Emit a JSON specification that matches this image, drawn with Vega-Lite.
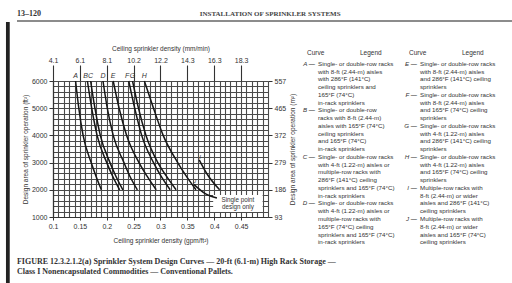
{
  "$schema": "https://vega.github.io/schema/vega-lite/v6.json",
  "width": 215,
  "height": 136,
  "autosize": {"type": "none"},
  "padding": {"left": 53, "top": 81, "right": 244, "bottom": 66},
  "background": "white",
  "config": {"view": {"stroke": null}, "font": "Liberation Sans"},
  "datasets": {
    "curves": [
      {"curve": "A", "d": 0.142, "area": 6000}, {"curve": "A", "d": 0.148, "area": 5000}, {"curve": "A", "d": 0.156, "area": 4000}, {"curve": "A", "d": 0.171, "area": 3000}, {"curve": "A", "d": 0.180, "area": 2500}, {"curve": "A", "d": 0.190, "area": 2000},
      {"curve": "B", "d": 0.164, "area": 6000}, {"curve": "B", "d": 0.172, "area": 5000}, {"curve": "B", "d": 0.182, "area": 4000}, {"curve": "B", "d": 0.200, "area": 3000}, {"curve": "B", "d": 0.211, "area": 2500}, {"curve": "B", "d": 0.224, "area": 2000},
      {"curve": "C", "d": 0.170, "area": 6000}, {"curve": "C", "d": 0.178, "area": 5000}, {"curve": "C", "d": 0.188, "area": 4000}, {"curve": "C", "d": 0.206, "area": 3000}, {"curve": "C", "d": 0.217, "area": 2500}, {"curve": "C", "d": 0.230, "area": 2000},
      {"curve": "D", "d": 0.193, "area": 6000}, {"curve": "D", "d": 0.201, "area": 5000}, {"curve": "D", "d": 0.212, "area": 4000}, {"curve": "D", "d": 0.232, "area": 3000}, {"curve": "D", "d": 0.243, "area": 2500}, {"curve": "D", "d": 0.257, "area": 2000},
      {"curve": "E", "d": 0.212, "area": 6000}, {"curve": "E", "d": 0.223, "area": 5000}, {"curve": "E", "d": 0.237, "area": 4000}, {"curve": "E", "d": 0.260, "area": 3000}, {"curve": "E", "d": 0.275, "area": 2500}, {"curve": "E", "d": 0.292, "area": 2000},
      {"curve": "F", "d": 0.241, "area": 6000}, {"curve": "F", "d": 0.252, "area": 5000}, {"curve": "F", "d": 0.265, "area": 4000}, {"curve": "F", "d": 0.287, "area": 3000}, {"curve": "F", "d": 0.301, "area": 2500}, {"curve": "F", "d": 0.318, "area": 2000},
      {"curve": "G", "d": 0.248, "area": 6000}, {"curve": "G", "d": 0.259, "area": 5000}, {"curve": "G", "d": 0.273, "area": 4000}, {"curve": "G", "d": 0.295, "area": 3000}, {"curve": "G", "d": 0.311, "area": 2500}, {"curve": "G", "d": 0.329, "area": 2000},
      {"curve": "H", "d": 0.270, "area": 6000}, {"curve": "H", "d": 0.287, "area": 5000}, {"curve": "H", "d": 0.305, "area": 4000}, {"curve": "H", "d": 0.332, "area": 3000}, {"curve": "H", "d": 0.348, "area": 2500}, {"curve": "H", "d": 0.366, "area": 2000},
      {"curve": "I", "d": 0.372, "area": 3100}, {"curve": "I", "d": 0.386, "area": 2600}, {"curve": "I", "d": 0.410, "area": 2000},
      {"curve": "J", "d": 0.362, "area": 2200}, {"curve": "J", "d": 0.384, "area": 1850}, {"curve": "J", "d": 0.405, "area": 1700}
    ],
    "legend": [
      {"col": 1, "line": 1, "key": "A —", "text": "Single- or double-row racks"},
      {"col": 1, "line": 2, "text": "with 8-ft (2.44-m) aisles"},
      {"col": 1, "line": 3, "text": "with 286°F (141°C)"},
      {"col": 1, "line": 4, "text": "ceiling sprinklers and"},
      {"col": 1, "line": 5, "text": "165°F (74°C)"},
      {"col": 1, "line": 6, "text": "in-rack sprinklers"},
      {"col": 1, "line": 7, "key": "B —", "text": "Single- or double-row"},
      {"col": 1, "line": 8, "text": "racks with 8-ft (2.44-m)"},
      {"col": 1, "line": 9, "text": "aisles with 165°F (74°C)"},
      {"col": 1, "line": 10, "text": "ceiling sprinklers"},
      {"col": 1, "line": 11, "text": "and 165°F (74°C)"},
      {"col": 1, "line": 12, "text": "in-rack sprinklers"},
      {"col": 1, "line": 13, "key": "C —", "text": "Single- or double-row racks"},
      {"col": 1, "line": 14, "text": "with 4-ft (1.22-m) aisles or"},
      {"col": 1, "line": 15, "text": "multiple-row racks with"},
      {"col": 1, "line": 16, "text": "286°F (141°C) ceiling"},
      {"col": 1, "line": 17, "text": "sprinklers and 165°F (74°C)"},
      {"col": 1, "line": 18, "text": "in-rack sprinklers"},
      {"col": 1, "line": 19, "key": "D —", "text": "Single- or double-row racks"},
      {"col": 1, "line": 20, "text": "with 4-ft (1.22-m) aisles or"},
      {"col": 1, "line": 21, "text": "multiple-row racks with"},
      {"col": 1, "line": 22, "text": "165°F (74°C) ceiling"},
      {"col": 1, "line": 23, "text": "sprinklers and 165°F (74°C)"},
      {"col": 1, "line": 24, "text": "in-rack sprinklers"},
      {"col": 2, "line": 1, "key": "E —", "text": "Single- or double-row racks"},
      {"col": 2, "line": 2, "text": "with 8-ft (2.44-m) aisles"},
      {"col": 2, "line": 3, "text": "and 286°F (141°C) ceiling"},
      {"col": 2, "line": 4, "text": "sprinklers"},
      {"col": 2, "line": 5, "key": "F —", "text": "Single- or double-row racks"},
      {"col": 2, "line": 6, "text": "with 8-ft (2.44-m) aisles"},
      {"col": 2, "line": 7, "text": "and 165°F (74°C) ceiling"},
      {"col": 2, "line": 8, "text": "sprinklers"},
      {"col": 2, "line": 9, "key": "G —", "text": "Single- or double-row racks"},
      {"col": 2, "line": 10, "text": "with 4-ft (1.22-m) aisles"},
      {"col": 2, "line": 11, "text": "and 286°F (141°C) ceiling"},
      {"col": 2, "line": 12, "text": "sprinklers"},
      {"col": 2, "line": 13, "key": "H —", "text": "Single- or double-row racks"},
      {"col": 2, "line": 14, "text": "with 4-ft (1.22-m) aisles"},
      {"col": 2, "line": 15, "text": "and 165°F (74°C) ceiling"},
      {"col": 2, "line": 16, "text": "sprinklers"},
      {"col": 2, "line": 17, "key": "I —", "text": "Multiple-row racks with"},
      {"col": 2, "line": 18, "text": "8-ft (2.44-m) or wider"},
      {"col": 2, "line": 19, "text": "aisles and 286°F (141°C)"},
      {"col": 2, "line": 20, "text": "ceiling sprinklers"},
      {"col": 2, "line": 21, "key": "J —", "text": "Multiple-row racks with"},
      {"col": 2, "line": 22, "text": "8-ft (2.44-m) or wider"},
      {"col": 2, "line": 23, "text": "aisles and 165°F (74°C)"},
      {"col": 2, "line": 24, "text": "ceiling sprinklers"}
    ]
  },
  "layer": [
    {
      "data": {"name": "curves"},
      "resolve": {"axis": {"x": "independent", "y": "independent"}},
      "layer": [
        {
          "data": {"values": [{}]},
          "mark": {"type": "rect", "fill": "white"},
          "encoding": {
            "x": {"datum": 0.398, "type": "quantitative", "axis": null},
            "x2": {"datum": 0.49},
            "y": {"datum": 1810, "type": "quantitative", "axis": null},
            "y2": {"datum": 1180}
          }
        },
        {
          "mark": {"type": "line", "color": "#161616", "strokeWidth": 1.5, "interpolate": "monotone"},
          "encoding": {
            "x": {
              "field": "d", "type": "quantitative",
              "scale": {"domain": [0.1, 0.5], "nice": false, "zero": false},
              "axis": {
                "orient": "bottom",
                "values": [0.1,0.11,0.12,0.13,0.14,0.15,0.16,0.17,0.18,0.19,0.2,0.21,0.22,0.23,0.24,0.25,0.26,0.27,0.28,0.29,0.3,0.31,0.32,0.33,0.34,0.35,0.36,0.37,0.38,0.39,0.4,0.41,0.42,0.43,0.44,0.45,0.46,0.47,0.48,0.49,0.5],
                "grid": true, "gridColor": "#4a4a4a", "gridWidth": 1.1,
                "domain": true, "domainColor": "#333", "domainWidth": 1.2,
                "tickSize": 3, "tickColor": "#333",
                "tickOpacity": {"condition": {"test": "abs(datum.value*20-round(datum.value*20))<0.001 && datum.value<0.49", "value": 1}, "value": 0},
                "labelExpr": "abs(datum.value*20-round(datum.value*20))<0.001 && datum.value<0.49 ? format(datum.value,'.2~f') : ''",
                "labelOverlap": false, "labelFlush": false, "labelBound": false,
                "labelFontSize": 7, "labelColor": "#333", "labelPadding": 2,
                "title": "Ceiling sprinkler density (gpm/ft²)",
                "titleFontSize": 6.5, "titleFontWeight": "normal", "titleColor": "#333", "titlePadding": 8
              }
            },
            "y": {
              "field": "area", "type": "quantitative",
              "scale": {"domain": [1000, 6000], "nice": false, "zero": false},
              "axis": {
                "orient": "left",
                "values": [1000,1200,1400,1600,1800,2000,2200,2400,2600,2800,3000,3200,3400,3600,3800,4000,4200,4400,4600,4800,5000,5200,5400,5600,5800,6000],
                "grid": true, "gridColor": "#4a4a4a", "gridWidth": 1.1,
                "domain": true, "domainColor": "#333", "domainWidth": 1.2,
                "tickSize": 4, "tickColor": "#333",
                "tickOpacity": {"condition": {"test": "datum.value % 1000 == 0", "value": 1}, "value": 0},
                "labelExpr": "datum.value % 1000 == 0 ? datum.value + '' : ''",
                "labelOverlap": false, "labelFlush": false, "labelBound": false,
                "labelFontSize": 7, "labelColor": "#333", "labelPadding": 2,
                "title": "Design area of sprinkler operation (ft²)",
                "titleFontSize": 6.5, "titleFontWeight": "normal", "titleColor": "#333", "titlePadding": 3
              }
            },
            "detail": {"field": "curve"}
          }
        },
        {
          "transform": [{"filter": "datum.area == 6000 && datum.curve != 'B' && datum.curve != 'F'"}],
          "mark": {"type": "text", "fontSize": 7, "fontStyle": "italic", "color": "#333", "baseline": "bottom", "align": "center", "dy": -2},
          "encoding": {
            "x": {
              "field": "d", "type": "quantitative",
              "axis": {
                "orient": "top",
                "values": [0.1, 0.15, 0.2, 0.25, 0.3, 0.35, 0.4, 0.45],
                "grid": false, "domain": false,
                "tickSize": 16, "tickColor": "#333", "tickWidth": 1.1,
                "labelExpr": "format(datum.value*40.746,'.1f')",
                "labelFontSize": 7, "labelColor": "#333", "labelPadding": 2,
                "labelOverlap": false, "labelFlush": false,
                "title": "Ceiling sprinkler density (mm/min)",
                "titleFontSize": 6.5, "titleFontWeight": "normal", "titleColor": "#333", "titlePadding": 5
              }
            },
            "y": {
              "field": "area", "type": "quantitative",
              "axis": {
                "orient": "right",
                "values": [1000, 2000, 3000, 4000, 5000, 6000],
                "grid": false, "domain": false,
                "tickSize": 4, "tickColor": "#333",
                "labelExpr": "round(datum.value*0.0929) + ''",
                "labelFontSize": 7, "labelColor": "#333", "labelPadding": 2,
                "labelOverlap": false, "labelFlush": false,
                "title": "Design area of sprinkler operation (m²)",
                "titleAngle": 270, "titleBaseline": "top",
                "titleFontSize": 6.5, "titleFontWeight": "normal", "titleColor": "#333", "titlePadding": 4
              }
            },
            "text": {"field": "curve"}
          }
        },
        {
          "transform": [{"filter": "datum.area == 6000 && (datum.curve == 'B' || datum.curve == 'F')"}],
          "mark": {"type": "text", "fontSize": 7, "fontStyle": "italic", "color": "#333", "baseline": "bottom", "align": "right", "dx": 0.5, "dy": -2},
          "encoding": {
            "x": {"field": "d", "type": "quantitative", "axis": null},
            "y": {"field": "area", "type": "quantitative", "axis": null},
            "text": {"field": "curve"}
          }
        },
        {
          "transform": [{"filter": "(datum.curve == 'I' && datum.area == 3100) || (datum.curve == 'J' && datum.area == 2200)"}],
          "mark": {"type": "text", "fontSize": 6, "fontStyle": "italic", "color": "#333", "baseline": "bottom", "align": "center", "dx": 1},
          "encoding": {
            "x": {"field": "d", "type": "quantitative", "axis": null},
            "y": {"field": "area", "type": "quantitative", "axis": null},
            "text": {"field": "curve"}
          }
        },
        {
          "data": {"values": [{}]},
          "mark": {"type": "text", "fontSize": 6.3, "color": "#333", "align": "center", "baseline": "middle"},
          "encoding": {
            "x": {"datum": 0.444, "type": "quantitative", "axis": null},
            "y": {"datum": 1610, "type": "quantitative", "axis": null},
            "text": {"value": "Single point"}
          }
        },
        {
          "data": {"values": [{}]},
          "mark": {"type": "text", "fontSize": 6.3, "color": "#333", "align": "center", "baseline": "middle"},
          "encoding": {
            "x": {"datum": 0.444, "type": "quantitative", "axis": null},
            "y": {"datum": 1370, "type": "quantitative", "axis": null},
            "text": {"value": "design only"}
          }
        },
        {
          "data": {"values": [{}]},
          "mark": {"type": "text", "font": "Liberation Serif", "fontWeight": "bold", "fontSize": 8, "color": "#333", "align": "left", "baseline": "middle"},
          "encoding": {
            "x": {"datum": 0.033, "type": "quantitative", "axis": null},
            "y": {"datum": 8462, "type": "quantitative", "axis": null},
            "text": {"value": "13–120"}
          }
        },
        {
          "data": {"values": [{}]},
          "mark": {"type": "text", "font": "Liberation Serif", "fontWeight": "bold", "fontSize": 7, "color": "#444", "align": "center", "baseline": "middle"},
          "encoding": {
            "x": {"datum": 0.504, "type": "quantitative", "axis": null},
            "y": {"datum": 8462, "type": "quantitative", "axis": null},
            "text": {"value": "INSTALLATION OF SPRINKLER SYSTEMS"}
          }
        },
        {
          "data": {"values": [{}]},
          "mark": {"type": "rule", "color": "#666", "strokeWidth": 1.5},
          "encoding": {
            "x": {"datum": 0.033, "type": "quantitative", "axis": null},
            "x2": {"datum": 0.96},
            "y": {"datum": 8205, "type": "quantitative", "axis": null}
          }
        },
        {
          "data": {"values": [{}]},
          "mark": {"type": "rect", "fill": "#222"},
          "encoding": {
            "x": {"datum": 0.0125, "type": "quantitative", "axis": null},
            "x2": {"datum": 0.0195},
            "y": {"datum": 8170, "type": "quantitative", "axis": null},
            "y2": {"datum": -1500}
          }
        },
        {
          "data": {"values": [{}]},
          "mark": {"type": "text", "font": "Liberation Serif", "fontWeight": "bold", "fontSize": 8, "color": "#333", "align": "left", "baseline": "middle"},
          "encoding": {
            "x": {"datum": 0.033, "type": "quantitative", "axis": null},
            "y": {"datum": -654, "type": "quantitative", "axis": null},
            "text": {"value": "FIGURE 12.3.2.1.2(a)   Sprinkler System Design Curves — 20-ft (6.1-m) High Rack Storage —"}
          }
        },
        {
          "data": {"values": [{}]},
          "mark": {"type": "text", "font": "Liberation Serif", "fontWeight": "bold", "fontSize": 8, "color": "#333", "align": "left", "baseline": "middle"},
          "encoding": {
            "x": {"datum": 0.033, "type": "quantitative", "axis": null},
            "y": {"datum": -1022, "type": "quantitative", "axis": null},
            "text": {"value": "Class I Nonencapsulated Commodities — Conventional Pallets."}
          }
        }
      ]
    },
    {
      "data": {"name": "legend"},
      "layer": [
        {
          "transform": [{"filter": "datum.key"}],
          "mark": {"type": "text", "fontSize": 6.2, "fontStyle": "italic", "color": "#333", "align": "right", "baseline": "middle", "dx": 13},
          "encoding": {
            "x": {"field": "col", "type": "quantitative", "scale": {"domain": [1, 2], "range": [249, 351]}, "axis": null},
            "y": {"field": "line", "type": "quantitative", "scale": {"domain": [1, 24], "range": [-25, 161.3]}, "axis": null},
            "text": {"field": "key"}
          }
        },
        {
          "mark": {"type": "text", "fontSize": 6.2, "color": "#333", "align": "left", "baseline": "middle", "dx": 16},
          "encoding": {
            "x": {"field": "col", "type": "quantitative", "axis": null},
            "y": {"field": "line", "type": "quantitative", "axis": null},
            "text": {"field": "text"}
          }
        },
        {
          "data": {"values": [{"col": 1}, {"col": 2}]},
          "mark": {"type": "text", "fontSize": 6.5, "color": "#333", "align": "left", "baseline": "middle", "dx": 5, "dy": -3},
          "encoding": {
            "x": {"field": "col", "type": "quantitative", "axis": null},
            "y": {"datum": 0, "type": "quantitative", "axis": null},
            "text": {"value": "Curve"}
          }
        },
        {
          "data": {"values": [{"col": 1}, {"col": 2}]},
          "mark": {"type": "text", "fontSize": 6.5, "color": "#333", "align": "left", "baseline": "middle", "dx": 58, "dy": -3},
          "encoding": {
            "x": {"field": "col", "type": "quantitative", "axis": null},
            "y": {"datum": 0, "type": "quantitative", "axis": null},
            "text": {"value": "Legend"}
          }
        }
      ]
    }
  ],
  "resolve": {"scale": {"x": "independent", "y": "independent"}}
}
